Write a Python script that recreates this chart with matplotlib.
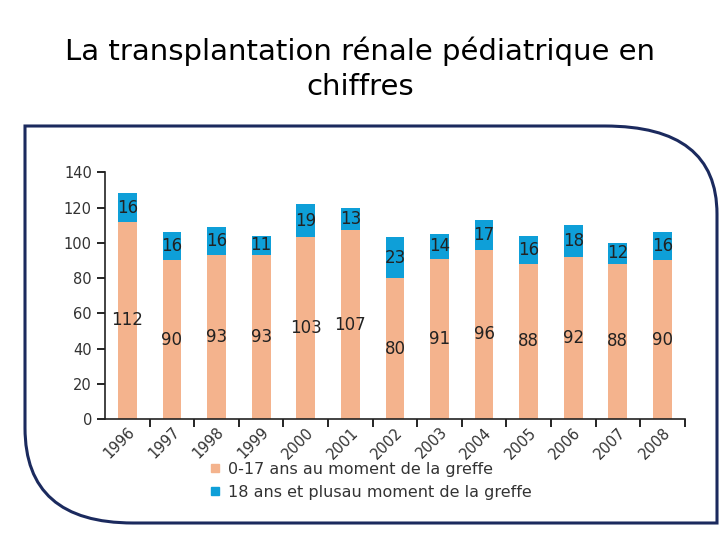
import matplotlib.pyplot as plt
from matplotlib.path import Path
from matplotlib.patches import PathPatch
from matplotlib.lines import Line2D

years = ["1996", "1997", "1998", "1999", "2000", "2001", "2002",
         "2003", "2004", "2005", "2006", "2007", "2008"]
enfants = [112, 90, 93, 93, 103, 107, 80, 91, 96, 88, 92, 88, 90]
adultes = [16, 16, 16, 11, 19, 13, 23, 14, 17, 16, 18, 12, 16]

ORANGE = "#F4B38D"
BLUE = "#0E9FD8"
NAVY = "#1B2A5E"

fig = plt.figure(figsize=(7.2, 5.4), dpi=100)

# titre de la diapo
fig.text(0.5, 0.873, "La transplantation rénale pédiatrique en\nchiffres",
         ha="center", va="center", fontsize=21, linespacing=1.3,
         family="DejaVu Sans")

# cadre arrondi (coins haut-droit et bas-gauche), en pixels
W, H = 720, 540
x0, x1, y0, y1 = 25, 717, 540 - 523, 540 - 126
verts = [
    (x0, y1), (x1 - 112, y1), (x1, y1), (x1, y1 - 88),
    (x1, y0), (x0 + 108, y0), (x0, y0), (x0, y0 + 95), (x0, y1),
]
codes = [Path.MOVETO, Path.LINETO, Path.CURVE3, Path.CURVE3,
         Path.LINETO, Path.LINETO, Path.CURVE3, Path.CURVE3, Path.CLOSEPOLY]
verts = [(vx / W, vy / H) for vx, vy in verts]
frame = PathPatch(Path(verts, codes), transform=fig.transFigure,
                  facecolor="none", edgecolor=NAVY, lw=2.2, zorder=-1)
fig.patches.append(frame)

ax = fig.add_axes([0.146, 0.224, 0.805, 0.457])
ax.patch.set_alpha(0)
x = range(len(years))
ax.bar(x, enfants, width=0.42, color=ORANGE, zorder=2)
ax.bar(x, adultes, bottom=enfants, width=0.42, color=BLUE, zorder=2)

for i in x:
    ax.text(i, enfants[i] / 2, str(enfants[i]), ha="center", va="center",
            fontsize=12, color="#222222", zorder=3)
    ax.text(i, enfants[i] + adultes[i] / 2, str(adultes[i]), ha="center",
            va="center", fontsize=12, color="#222222", zorder=3)

ax.set_xlim(-0.5, 12.5)
ax.set_ylim(0, 140)
ax.set_yticks(range(0, 141, 20))
ax.set_xticks([i + 0.5 for i in x])
ax.set_xticklabels([])
ax.set_xticks(list(x), minor=True)
ax.set_xticklabels(years, minor=True, rotation=45, ha="right",
                   rotation_mode="anchor", fontsize=10.5, color="#333333")
ax.tick_params(axis="x", which="minor", length=0, pad=4)
ax.tick_params(axis="x", which="major", length=6, width=1.2, direction="out")
ax.tick_params(axis="y", length=6, width=1.2, labelsize=10.5,
               labelcolor="#333333")
for s in ["top", "right"]:
    ax.spines[s].set_visible(False)
for s in ["left", "bottom"]:
    ax.spines[s].set_linewidth(1.2)
    ax.spines[s].set_color("#222222")

handles = [
    Line2D([], [], marker="s", ls="", color=ORANGE, markersize=6),
    Line2D([], [], marker="s", ls="", color=BLUE, markersize=6),
]
fig.legend(handles, ["0-17 ans au moment de la greffe",
                     "18 ans et plusau moment de la greffe"],
           loc="center left", bbox_to_anchor=(0.27, 1 - 481 / 540),
           bbox_transform=fig.transFigure, frameon=False, fontsize=11.5,
           handlelength=0.8, handletextpad=0.4, labelspacing=0.5,
           labelcolor="#333333")

fig.savefig("out.png", dpi=100)
